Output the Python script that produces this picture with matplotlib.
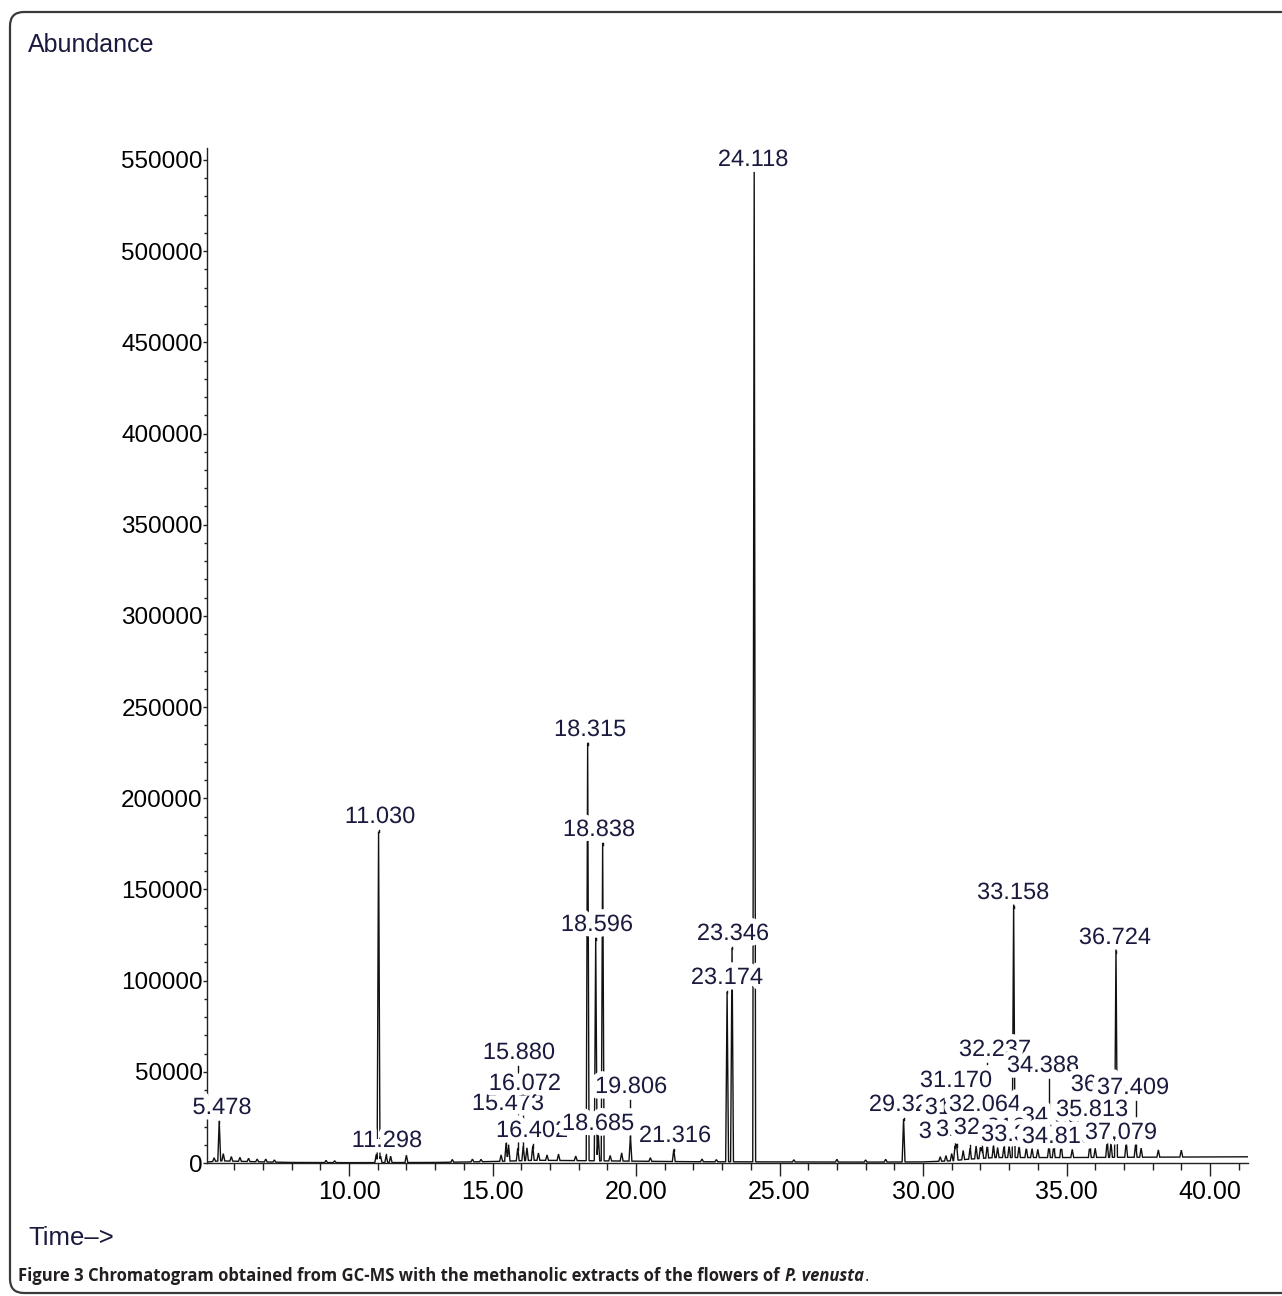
import matplotlib
matplotlib.use('Agg')
import matplotlib.pyplot as plt
import matplotlib.patheffects as pe
from matplotlib.patches import FancyBboxPatch
from matplotlib.transforms import IdentityTransform
from matplotlib.ticker import MultipleLocator, FuncFormatter
import numpy as np

# labelled peaks: retention time (min), apex abundance
peak_rt = [5.478, 11.030, 11.298, 15.473, 15.880, 16.072, 16.402, 18.315, 18.838,
           18.596, 18.685, 19.806, 21.316, 23.346, 23.174, 24.118, 29.323, 33.158,
           32.237, 31.170, 31.116, 32.064, 34.388, 36.724, 36.416, 37.409, 34.556,
           35.813, 31.640, 32.455, 32.819, 33.345, 34.815, 37.079]
peak_h = [21900, 181500, 4000, 9900, 7000, 8000, 8000, 229200, 174400,
          122300, 15000, 14000, 6600, 117300, 93200, 542900, 23600, 139800,
          7000, 9000, 8000, 6000, 6500, 115200, 9000, 7500, 7000,
          7000, 6000, 6500, 6000, 6000, 7500, 8500]

# where the integrator put each label (min, abundance), same order = draw order
label_x = [5.575, 11.08, 11.32, 15.54, 15.92, 16.13, 16.38, 18.40, 18.71,
           18.64, 18.68, 19.83, 21.36, 23.38, 23.17, 24.08, 29.37, 33.14,
           32.51, 31.15, 31.29, 32.16, 34.18, 36.69, 36.41, 37.32, 34.70,
           35.89, 31.11, 31.71, 32.33, 33.28, 34.70, 36.90]
label_y = [30160, 189730, 12060, 32350, 60320, 43320, 17550, 237440, 182600,
           130500, 21390, 41670, 14800, 125570, 101450, 550000, 31800, 148050,
           61960, 44960, 30160, 31800, 53190, 123380, 42770, 41130, 25220,
           29060, 17000, 18100, 19190, 15350, 14260, 16450]

# small unlabelled peaks
minor_rt = [5.30, 5.62, 5.90, 6.20, 6.50, 6.80, 7.10, 7.40, 9.20, 9.50,
            10.95, 11.10, 11.45, 12.00, 13.60, 14.30, 14.60, 15.30, 15.56, 16.20,
            16.60, 16.90, 17.30, 17.90, 19.10, 19.50, 20.50, 22.30, 22.80, 25.50,
            27.00, 28.00, 28.70, 30.60, 30.80, 31.00, 31.40, 31.85, 32.00, 32.60,
            33.00, 33.60, 33.80, 34.00, 35.20, 36.00, 36.55, 37.60, 38.20, 39.00]
minor_h = [2000, 4000, 2500, 2200, 1800, 1500, 1600, 1200, 1200, 1000,
           4500, 3500, 3500, 4000, 1500, 1500, 1300, 3500, 9000, 7000,
           4000, 3000, 3500, 2500, 3000, 4500, 2000, 1500, 1200, 1200,
           1500, 1200, 1500, 2500, 3000, 4000, 5000, 7000, 6000, 5500,
           6500, 5500, 5000, 4500, 4500, 5000, 8000, 5000, 4000, 3800]

# baseline drift
base_t = [5.05, 5.5, 6.0, 7.0, 8.0, 10.0, 13.0, 15.0, 16.5, 18.0, 20.0, 22.0,
          25.0, 28.0, 30.0, 31.0, 31.5, 32.5, 35.0, 38.0, 41.32]
base_v = [500, 1200, 1000, 600, 300, 200, 300, 800, 1500, 1300, 1000, 700,
          600, 500, 600, 1200, 2000, 3000, 3000, 3200, 3400]

INK = '#1a1a3e'
HW = 0.05  # half width of a peak, minutes

# build trace: baseline plus triangular peaks
all_rt = np.array(peak_rt + minor_rt)
all_h = np.array(peak_h + minor_h)
xs = np.concatenate([base_t, all_rt - HW, all_rt, all_rt + HW])
xs = np.unique(xs)
ys = np.interp(xs, base_t, base_v)
for rt, h in zip(all_rt, all_h):
    ys = ys + h * np.clip(1 - np.abs(xs - rt) / HW, 0, None)

W, H = 1282, 1296
fig = plt.figure(figsize=(W / 100, H / 100), dpi=100)
ax = fig.add_axes([207 / W, 1 - 1163 / H, (1248 - 207) / W, (1163 - 148) / H])
ax.set_xlim(5.052, 41.324)
ax.set_ylim(0, (1163 - 148) * 548.35)

ax.plot(xs, ys, color='#111111', lw=1.0, zorder=2, solid_joinstyle='miter')

# leader lines from label down to the peak apex
gap = 13 * 548.35
for rt, h, ly in zip(peak_rt, peak_h, label_y):
    if ly - gap > h:
        ax.plot([rt, rt], [h, ly - gap], color='#111111', lw=1.0, zorder=2)

for i, (rt, lx, ly) in enumerate(zip(peak_rt, label_x, label_y)):
    ax.text(lx, ly, '%.3f' % rt, ha='center', va='center', fontsize=17,
            family='Liberation Sans', color=INK, zorder=3 + i * 0.01,
            path_effects=[pe.withStroke(linewidth=8, foreground='white')])

for s in ['top', 'right']:
    ax.spines[s].set_visible(False)
for s in ['left', 'bottom']:
    ax.spines[s].set_linewidth(1.0)
    ax.spines[s].set_color('#222222')

ax.xaxis.set_major_locator(MultipleLocator(5))
ax.xaxis.set_minor_locator(MultipleLocator(1))
ax.yaxis.set_major_locator(MultipleLocator(50000))
ax.yaxis.set_minor_locator(MultipleLocator(10000))
ax.xaxis.set_major_formatter(FuncFormatter(lambda v, p: '%.2f' % v))
ax.yaxis.set_major_formatter(FuncFormatter(lambda v, p: '%d' % v))
ax.tick_params(axis='x', which='major', direction='out', length=9, width=1, pad=3,
               labelsize=18, colors='#222222', labelcolor='black')
ax.tick_params(axis='x', which='minor', direction='out', length=5, width=1, colors='#222222')
ax.tick_params(axis='y', which='major', direction='out', length=3, width=1, pad=0,
               labelsize=17.5, colors='#222222', labelcolor='black')
ax.tick_params(axis='y', which='minor', direction='out', length=2, width=1, colors='#222222')
for lab in ax.get_xticklabels() + ax.get_yticklabels():
    lab.set_family('Liberation Sans')

fig.text(28, H - 52, 'Abundance', fontsize=18, family='Liberation Sans', color=INK,
         ha='left', va='baseline', transform=IdentityTransform())
fig.text(28, H - 1245, 'Time\u2013>', fontsize=18.5, family='Liberation Sans', color=INK,
         ha='left', va='baseline', transform=IdentityTransform())

# frame round the figure
fig.patches.append(FancyBboxPatch((10, 3), 1400, 1281, boxstyle='round,pad=0,rounding_size=14',
                                  transform=IdentityTransform(), fill=False,
                                  edgecolor='#3a3a3a', lw=1.6))

# caption
renderer = fig.canvas.get_renderer()
cap = dict(family='Open Sans', fontsize=12, color='#231f20', va='baseline',
           transform=IdentityTransform())
t1 = fig.text(18, H - 1281, 'Figure 3 Chromatogram obtained from GC-MS with the methanolic '
              'extracts of the flowers of', fontweight='bold', **cap)
x = t1.get_window_extent(renderer).x1 + 5
t2 = fig.text(x, H - 1281, 'P. venusta', fontweight='bold', style='italic', **cap)
x = t2.get_window_extent(renderer).x1 + 1
fig.text(x, H - 1281, '.', **cap)

fig.savefig('out.png', dpi=100)
